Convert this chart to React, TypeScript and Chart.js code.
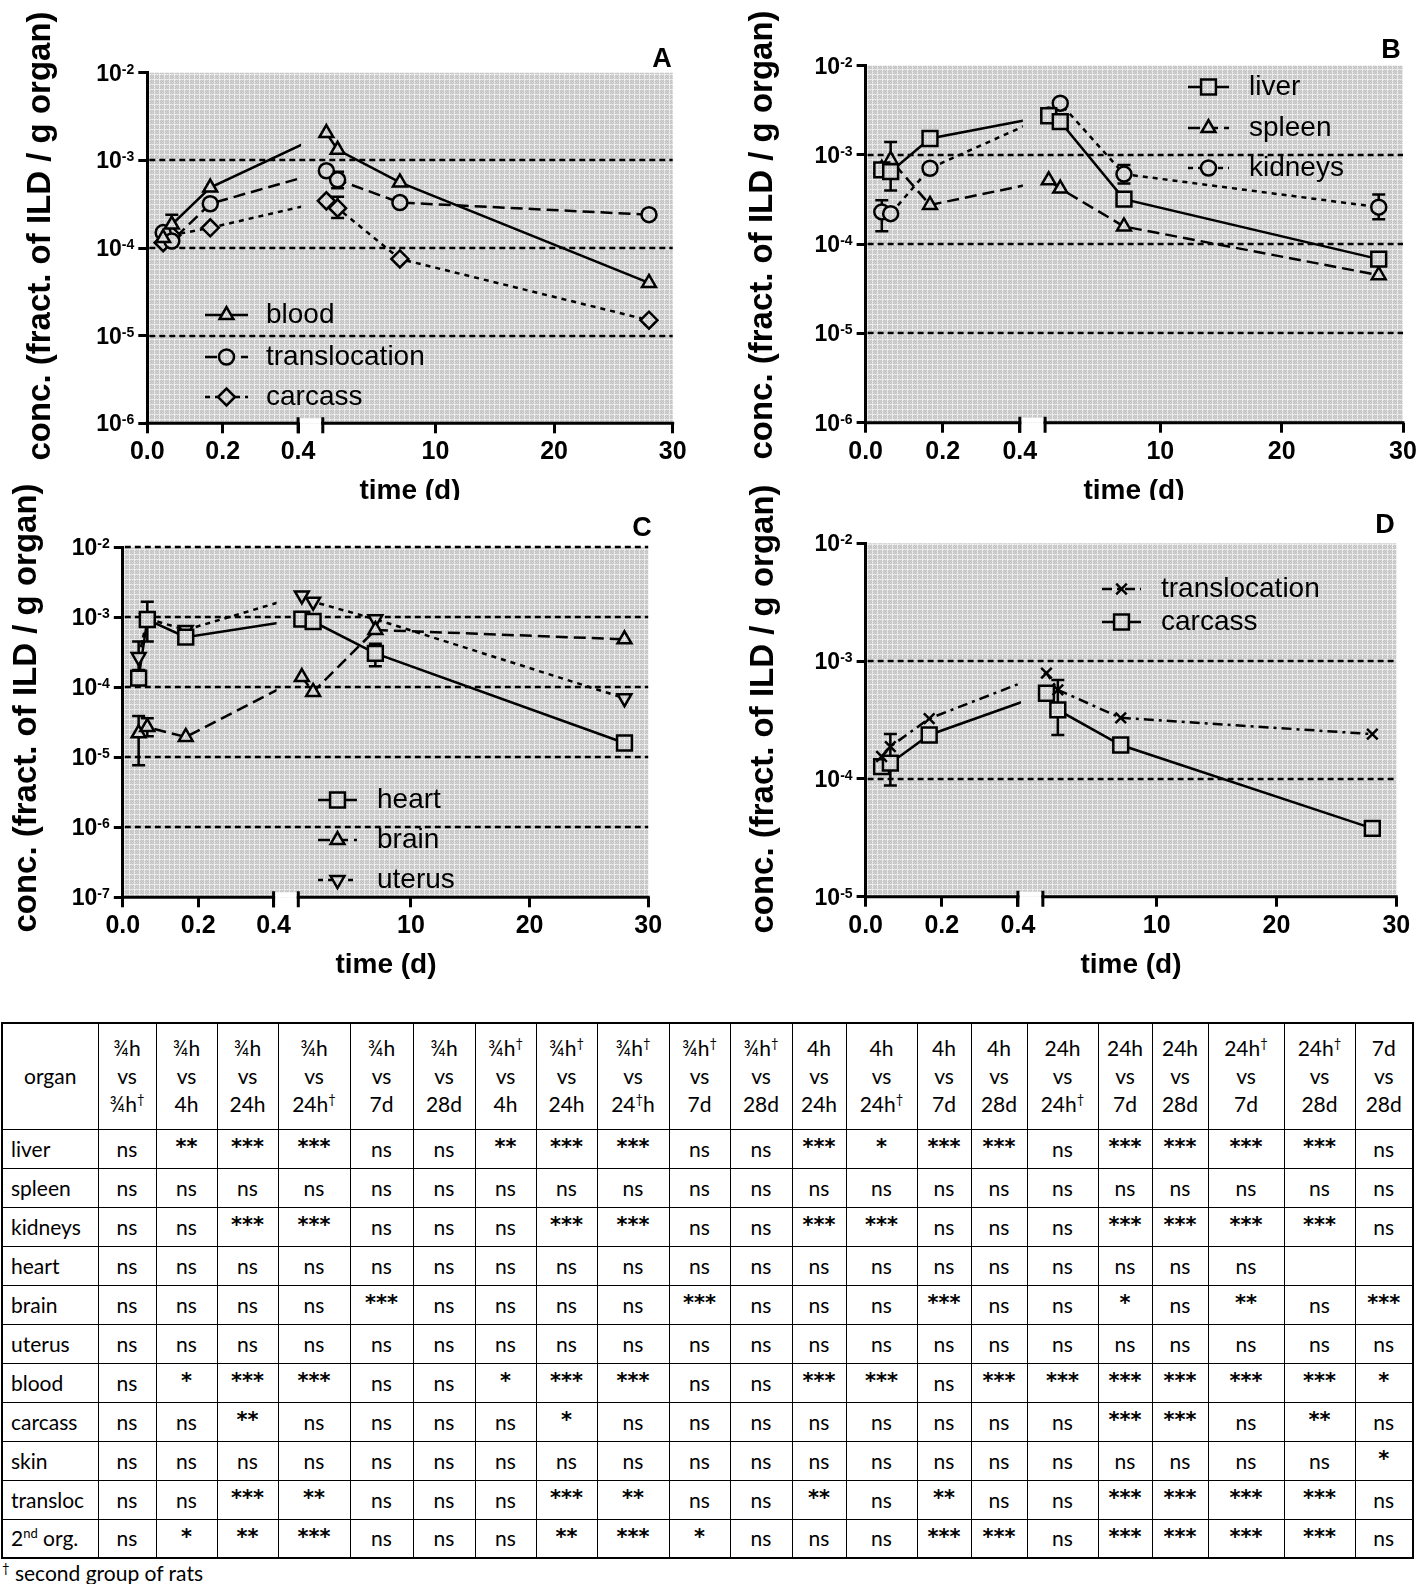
import React, { useEffect, useRef } from 'react';
import { Chart, registerables, LinearScale } from 'chart.js';
import { drawPoint } from 'chart.js/helpers';

Chart.register(...registerables);

const FONT = '"Liberation Sans", Arial, Helvetica, sans-serif';
const TABLE_FONT = 'Lato, "Open Sans", "Noto Sans", sans-serif';

// ---------------- chart data ----------------
// sampling times in days: ¾h, ¾h†, 4h, 24h, 24h†, 7d, 28d
const TIMES = [0.042, 0.065, 0.167, 0.8, 1.75, 7, 28];
const X_TICKS = [0, 0.2, 0.4, 10, 20, 30];
const X_TICK_LABELS = ['0.0', '0.2', '0.4', '10', '20', '30'];
const BREAK_LO = 0.4;
const BREAK_HI = 0.5;
const X_MAX = 30;

// Panel A
const A_LABELS = ['blood', 'translocation', 'carcass'];
const A_BLOOD = [1.3e-4, 1.85e-4, 4.9e-4, 2.05e-3, 1.32e-3, 5.6e-4, 4.0e-5];
const A_TRANSLOC = [1.5e-4, 1.2e-4, 3.2e-4, 7.6e-4, 6.0e-4, 3.3e-4, 2.4e-4];
const A_CARCASS = [1.15e-4, 1.4e-4, 1.7e-4, 3.45e-4, 2.85e-4, 7.5e-5, 1.5e-5];
const A_BLOOD_ERR = [null, [1.05e-4, 2.4e-4], null, null, null, null, null];
const A_TRANSLOC_ERR = [null, null, null, null, [4.8e-4, 7.4e-4], null, null];
const A_CARCASS_ERR = [null, null, null, null, [2.2e-4, 3.85e-4], null, null];

// Panel B
const B_LABELS = ['liver', 'spleen', 'kidneys'];
const B_LIVER = [6.8e-4, 6.5e-4, 1.53e-3, 2.75e-3, 2.36e-3, 3.2e-4, 6.8e-5];
const B_SPLEEN = [7.0e-4, 8.8e-4, 2.75e-4, 5.2e-4, 4.2e-4, 1.58e-4, 4.5e-5];
const B_KIDNEYS = [2.3e-4, 2.2e-4, 7.1e-4, 2.8e-3, 3.8e-3, 6.1e-4, 2.6e-4];
const B_LIVER_ERR = [null, null, null, null, null, [2.8e-4, 3.7e-4], null];
const B_SPLEEN_ERR = [null, [4.0e-4, 1.4e-3], null, null, null, null, null];
const B_KIDNEYS_ERR = [[1.4e-4, 3.1e-4], null, null, null, null, [4.8e-4, 7.7e-4], [1.9e-4, 3.6e-4]];

// Panel C
const C_LABELS = ['heart', 'brain', 'uterus'];
const C_HEART = [1.35e-4, 9.3e-4, 5.2e-4, 9.4e-4, 8.7e-4, 3.05e-4, 1.6e-5];
const C_BRAIN = [2.2e-5, 2.7e-5, 1.95e-5, 1.4e-4, 8.6e-5, 6.6e-4, 4.85e-4];
const C_UTERUS = [2.7e-4, 9.6e-4, 6.6e-4, 2.05e-3, 1.67e-3, 9.4e-4, 7.0e-5];
const C_HEART_ERR = [null, [4.5e-4, 1.67e-3], null, null, null, [2.0e-4, 4.2e-4], null];
const C_BRAIN_ERR = [[7.7e-6, 3.9e-5], [2.0e-5, 3.6e-5], null, null, null, null, null];
const C_UTERUS_ERR = [[1.77e-4, 4.5e-4], null, null, null, null, null, null];

// Panel D
const D_LABELS = ['translocation', 'carcass'];
const D_TRANSLOC = [1.55e-4, 1.88e-4, 3.25e-4, 7.9e-4, 5.7e-4, 3.3e-4, 2.4e-4];
const D_CARCASS = [1.27e-4, 1.36e-4, 2.36e-4, 5.33e-4, 3.85e-4, 1.94e-4, 3.8e-5];
const D_TRANSLOC_ERR = [null, null, null, null, null, null, null];
const D_CARCASS_ERR = [null, [8.8e-5, 2.4e-4], null, null, [2.36e-4, 6.9e-4], null, null];

// ---------------- table data ----------------
const ORGANS = ['liver', 'spleen', 'kidneys', 'heart', 'brain', 'uterus', 'blood', 'carcass', 'skin', 'transloc', '2nd org.'];
const CMP_FROM = ['¾h', '¾h', '¾h', '¾h', '¾h', '¾h', '¾h†', '¾h†', '¾h†', '¾h†', '¾h†', '4h', '4h', '4h', '4h', '24h', '24h', '24h', '24h†', '24h†', '7d'];
const CMP_TO = ['¾h†', '4h', '24h', '24h†', '7d', '28d', '4h', '24h', '24†h', '7d', '28d', '24h', '24h†', '7d', '28d', '24h†', '7d', '28d', '7d', '28d', '28d'];
const SIG_LIVER = ['ns', '**', '***', '***', 'ns', 'ns', '**', '***', '***', 'ns', 'ns', '***', '*', '***', '***', 'ns', '***', '***', '***', '***', 'ns'];
const SIG_SPLEEN = ['ns', 'ns', 'ns', 'ns', 'ns', 'ns', 'ns', 'ns', 'ns', 'ns', 'ns', 'ns', 'ns', 'ns', 'ns', 'ns', 'ns', 'ns', 'ns', 'ns', 'ns'];
const SIG_KIDNEYS = ['ns', 'ns', '***', '***', 'ns', 'ns', 'ns', '***', '***', 'ns', 'ns', '***', '***', 'ns', 'ns', 'ns', '***', '***', '***', '***', 'ns'];
const SIG_HEART = ['ns', 'ns', 'ns', 'ns', 'ns', 'ns', 'ns', 'ns', 'ns', 'ns', 'ns', 'ns', 'ns', 'ns', 'ns', 'ns', 'ns', 'ns', 'ns', '', ''];
const SIG_BRAIN = ['ns', 'ns', 'ns', 'ns', '***', 'ns', 'ns', 'ns', 'ns', '***', 'ns', 'ns', 'ns', '***', 'ns', 'ns', '*', 'ns', '**', 'ns', '***'];
const SIG_UTERUS = ['ns', 'ns', 'ns', 'ns', 'ns', 'ns', 'ns', 'ns', 'ns', 'ns', 'ns', 'ns', 'ns', 'ns', 'ns', 'ns', 'ns', 'ns', 'ns', 'ns', 'ns'];
const SIG_BLOOD = ['ns', '*', '***', '***', 'ns', 'ns', '*', '***', '***', 'ns', 'ns', '***', '***', 'ns', '***', '***', '***', '***', '***', '***', '*'];
const SIG_CARCASS = ['ns', 'ns', '**', 'ns', 'ns', 'ns', 'ns', '*', 'ns', 'ns', 'ns', 'ns', 'ns', 'ns', 'ns', 'ns', '***', '***', 'ns', '**', 'ns'];
const SIG_SKIN = ['ns', 'ns', 'ns', 'ns', 'ns', 'ns', 'ns', 'ns', 'ns', 'ns', 'ns', 'ns', 'ns', 'ns', 'ns', 'ns', 'ns', 'ns', 'ns', 'ns', '*'];
const SIG_TRANSLOC = ['ns', 'ns', '***', '**', 'ns', 'ns', 'ns', '***', '**', 'ns', 'ns', '**', 'ns', '**', 'ns', 'ns', '***', '***', '***', '***', 'ns'];
const SIG_2ND = ['ns', '*', '**', '***', 'ns', 'ns', 'ns', '**', '***', '*', 'ns', 'ns', 'ns', '***', '***', 'ns', '***', '***', '***', '***', 'ns'];
const SIG_ROWS = [SIG_LIVER, SIG_SPLEEN, SIG_KIDNEYS, SIG_HEART, SIG_BRAIN, SIG_UTERUS, SIG_BLOOD, SIG_CARCASS, SIG_SKIN, SIG_TRANSLOC, SIG_2ND];

// ---------------- layout (not data) ----------------
const COL_WIDTHS = [96, 58, 61, 61, 72, 63, 62, 61, 61, 72, 61, 62, 54, 71, 54, 56, 71, 54, 56, 76, 71, 58];
const FRAC_LEFT = 0.287;
const FRAC_GAP = 0.047;
const Y_TICK_LEN = 9;
const X_SCALE_H = 40;
const LINE_W = 2.5;

class BrokenScale extends LinearScale {
  static id = 'broken';
  buildTicks() {
    return X_TICKS.map((value) => ({ value }));
  }
  getPixelForValue(value: number) {
    const w = (this as any).width;
    const l = (this as any).left;
    if (value <= (BREAK_LO + BREAK_HI) / 2) {
      return l + (value / BREAK_LO) * FRAC_LEFT * w;
    }
    const start = l + (FRAC_LEFT + FRAC_GAP) * w;
    return start + ((value - BREAK_HI) / (X_MAX - BREAK_HI)) * (1 - FRAC_LEFT - FRAC_GAP) * w;
  }
}
Chart.register(BrokenScale as any);

const PANELS: any[] = [
  {
    key: 'A',
    box: { left: 0, top: 0, width: 708, height: 500 },
    area: { l: 147.3, t: 72.7, r: 672.7, b: 423.3 },
    yMin: 1e-6, yMax: 1e-2, grid: [1e-3, 1e-4, 1e-5],
    series: [
      { label: A_LABELS[0], data: A_BLOOD, err: A_BLOOD_ERR, dash: [], point: 'triangle', radius: 8, rotation: 0 },
      { label: A_LABELS[1], data: A_TRANSLOC, err: A_TRANSLOC_ERR, dash: [12, 6], point: 'circle', radius: 7.5, rotation: 0 },
      { label: A_LABELS[2], data: A_CARCASS, err: A_CARCASS_ERR, dash: [5, 5], point: 'rectRot', radius: 8.5, rotation: 0 },
    ],
    legend: { x0: 205, x1: 248, tx: 266, ys: [315, 357, 397] },
    yTitle: { x: 41, y: 236 }, xTitle: { x: 410, y: 491 }, letterPos: { x: 662, y: 60 },
  },
  {
    key: 'B',
    box: { left: 708, top: 0, width: 730, height: 500 },
    area: { l: 865.6, t: 65.7, r: 1403, b: 422.7 },
    yMin: 1e-6, yMax: 1e-2, grid: [1e-3, 1e-4, 1e-5],
    series: [
      { label: B_LABELS[0], data: B_LIVER, err: B_LIVER_ERR, dash: [], point: 'rect', radius: 10.5, rotation: 0 },
      { label: B_LABELS[1], data: B_SPLEEN, err: B_SPLEEN_ERR, dash: [12, 6], point: 'triangle', radius: 8, rotation: 0 },
      { label: B_LABELS[2], data: B_KIDNEYS, err: B_KIDNEYS_ERR, dash: [5, 5], point: 'circle', radius: 7.5, rotation: 0 },
    ],
    legend: { x0: 1188, x1: 1229, tx: 1249, ys: [87, 128, 168] },
    yTitle: { x: 763, y: 235 }, xTitle: { x: 1134, y: 491 }, letterPos: { x: 1391, y: 51 },
  },
  {
    key: 'C',
    box: { left: 0, top: 470, width: 708, height: 510 },
    area: { l: 122.8, t: 547.3, r: 648.2, b: 897.3 },
    yMin: 1e-7, yMax: 1e-2, grid: [1e-2, 1e-3, 1e-4, 1e-5, 1e-6],
    series: [
      { label: C_LABELS[0], data: C_HEART, err: C_HEART_ERR, dash: [], point: 'rect', radius: 10.5, rotation: 0 },
      { label: C_LABELS[1], data: C_BRAIN, err: C_BRAIN_ERR, dash: [12, 6], point: 'triangle', radius: 8, rotation: 0 },
      { label: C_LABELS[2], data: C_UTERUS, err: C_UTERUS_ERR, dash: [5, 5], point: 'triangle', radius: 8, rotation: 180 },
    ],
    legend: { x0: 318, x1: 357, tx: 377, ys: [800, 840, 880] },
    yTitle: { x: 27, y: 708 }, xTitle: { x: 386, y: 965 }, letterPos: { x: 642, y: 529 },
  },
  {
    key: 'D',
    box: { left: 708, top: 470, width: 730, height: 510 },
    area: { l: 865.6, t: 543.3, r: 1396.3, b: 896.7 },
    yMin: 1e-5, yMax: 1e-2, grid: [1e-3, 1e-4],
    series: [
      { label: D_LABELS[0], data: D_TRANSLOC, err: D_TRANSLOC_ERR, dash: [10, 5, 3, 5], point: 'crossRot', radius: 7.5, rotation: 0 },
      { label: D_LABELS[1], data: D_CARCASS, err: D_CARCASS_ERR, dash: [], point: 'rect', radius: 10.5, rotation: 0 },
    ],
    legend: { x0: 1102, x1: 1141, tx: 1161, ys: [589, 622] },
    yTitle: { x: 764, y: 709 }, xTitle: { x: 1131, y: 965 }, letterPos: { x: 1385, y: 526 },
  },
];

function makePattern(ctx: CanvasRenderingContext2D) {
  const c = document.createElement('canvas');
  c.width = 5;
  c.height = 5;
  const g = c.getContext('2d')!;
  for (let y = 0; y < 5; y++) {
    for (let x = 0; x < 5; x++) {
      let col;
      if (x === 4 || y === 4) col = (x + y) % 2 ? '#e0e0e0' : '#f0f0f0';
      else col = (x + y) % 2 ? '#c2c2c2' : '#d2d2d2';
      g.fillStyle = col;
      g.fillRect(x, y, 1, 1);
    }
  }
  return ctx.createPattern(c, 'repeat');
}

function decades(min: number, max: number) {
  const out: number[] = [];
  for (let e = Math.round(Math.log10(min)); e <= Math.round(Math.log10(max)); e++) out.push(Math.pow(10, e));
  return out;
}

function makePlugin(panel: any, pattern: any) {
  const ox = panel.box.left;
  const oy = panel.box.top;
  return {
    id: 'decor' + panel.key,
    beforeDraw(chart: any) {
      const { ctx, chartArea: a } = chart;
      const xs = chart.scales.x;
      ctx.save();
      ctx.fillStyle = pattern;
      ctx.fillRect(a.left, a.top, a.right - a.left, a.bottom - a.top);
      const g0 = xs.getPixelForValue(BREAK_LO);
      const g1 = xs.getPixelForValue(BREAK_HI);
      ctx.fillStyle = '#ffffff';
      ctx.fillRect(g0, a.bottom - 5, g1 - g0, 5);
      ctx.restore();
    },
    beforeDatasetsDraw(chart: any) {
      const { ctx, chartArea: a } = chart;
      const xs = chart.scales.x;
      const ys = chart.scales.y;
      ctx.save();
      ctx.strokeStyle = '#000';
      ctx.lineWidth = 2.5;
      ctx.setLineDash([6, 4]);
      for (const v of panel.grid) {
        const y = Math.round(ys.getPixelForValue(v));
        ctx.beginPath();
        ctx.moveTo(a.left + 2, y);
        ctx.lineTo(a.right, y);
        ctx.stroke();
      }
      ctx.setLineDash([]);
      // broken x axis
      const g0 = xs.getPixelForValue(BREAK_LO);
      const g1 = xs.getPixelForValue(BREAK_HI);
      const b = a.bottom;
      ctx.lineWidth = 3;
      ctx.beginPath();
      ctx.moveTo(xs.getPixelForValue(0) - 1.5, b);
      ctx.lineTo(g0 + 1.5, b);
      ctx.moveTo(g1 - 1.5, b);
      ctx.lineTo(xs.getPixelForValue(X_MAX) + 1.5, b);
      ctx.stroke();
      ctx.beginPath();
      ctx.moveTo(g0, b - 6);
      ctx.lineTo(g0, b + 10);
      ctx.moveTo(g1, b - 6);
      ctx.lineTo(g1, b + 10);
      ctx.stroke();
      // error bars
      ctx.lineWidth = 2.5;
      for (const s of panel.series) {
        s.err.forEach((e: any, i: number) => {
          if (!e) return;
          const x = xs.getPixelForValue(TIMES[i]);
          const y0 = ys.getPixelForValue(e[0]);
          const y1 = ys.getPixelForValue(e[1]);
          ctx.beginPath();
          ctx.moveTo(x, y0);
          ctx.lineTo(x, y1);
          ctx.moveTo(x - 6.5, y0);
          ctx.lineTo(x + 6.5, y0);
          ctx.moveTo(x - 6.5, y1);
          ctx.lineTo(x + 6.5, y1);
          ctx.stroke();
        });
      }
      ctx.restore();
    },
    beforeDatasetDraw(chart: any, args: any) {
      const ds = chart.data.datasets[args.index];
      if (!ds.isLine) return;
      const { ctx, chartArea: a } = chart;
      const xs = chart.scales.x;
      const g0 = xs.getPixelForValue(BREAK_LO) + 3;
      const g1 = xs.getPixelForValue(BREAK_HI);
      ctx.save();
      ctx.beginPath();
      ctx.rect(a.left - 20, a.top - 20, g0 - a.left + 20, a.bottom - a.top + 40);
      ctx.rect(g1, a.top - 20, a.right - g1 + 20, a.bottom - a.top + 40);
      ctx.clip();
    },
    afterDatasetDraw(chart: any, args: any) {
      const ds = chart.data.datasets[args.index];
      if (!ds.isLine) return;
      chart.ctx.restore();
    },
    afterDraw(chart: any) {
      const { ctx, chartArea: a } = chart;
      const ys = chart.scales.y;
      ctx.save();
      ctx.fillStyle = '#000';
      // y tick labels 10^n
      for (const v of decades(panel.yMin, panel.yMax)) {
        const y = ys.getPixelForValue(v);
        const exp = String(Math.round(Math.log10(v)));
        ctx.font = `bold 14px ${FONT}`;
        ctx.textAlign = 'right';
        ctx.textBaseline = 'alphabetic';
        const xr = a.left - 13;
        const ew = ctx.measureText(exp).width;
        ctx.fillText(exp, xr, y + 1);
        ctx.font = `bold 23px ${FONT}`;
        ctx.fillText('10', xr - ew, y + 8);
      }
      // y title
      ctx.save();
      ctx.translate(panel.yTitle.x - ox, panel.yTitle.y - oy);
      ctx.rotate(-Math.PI / 2);
      ctx.font = `bold 33px ${FONT}`;
      ctx.textAlign = 'center';
      ctx.textBaseline = 'middle';
      ctx.fillText('conc. (fract. of ILD / g organ)', 0, 0);
      ctx.restore();
      // x title
      ctx.font = `bold 28px ${FONT}`;
      ctx.textAlign = 'center';
      ctx.textBaseline = 'middle';
      ctx.fillText('time (d)', panel.xTitle.x - ox, panel.xTitle.y - oy);
      // panel letter
      ctx.font = `bold 27px ${FONT}`;
      ctx.fillText(panel.key, panel.letterPos.x - ox, panel.letterPos.y - oy);
      // legend
      const lg = panel.legend;
      panel.series.forEach((s: any, i: number) => {
        const y = lg.ys[i] - oy;
        const x0 = lg.x0 - ox;
        const x1 = lg.x1 - ox;
        ctx.strokeStyle = '#000';
        ctx.lineWidth = LINE_W;
        ctx.setLineDash(s.dash);
        ctx.beginPath();
        ctx.moveTo(x0, y);
        ctx.lineTo(x1, y);
        ctx.stroke();
        ctx.setLineDash([]);
        ctx.fillStyle = pattern;
        ctx.strokeStyle = '#000';
        ctx.lineWidth = LINE_W;
        drawPoint(ctx, { pointStyle: s.point, rotation: s.rotation, radius: s.radius, borderWidth: LINE_W } as any, (x0 + x1) / 2, y);
        ctx.fillStyle = '#000';
        ctx.font = `28px ${FONT}`;
        ctx.textAlign = 'left';
        ctx.textBaseline = 'middle';
        ctx.fillText(s.label, lg.tx - ox, y);
      });
      ctx.restore();
    },
  };
}

function buildConfig(panel: any, pattern: any) {
  const datasets: any[] = [];
  panel.series.forEach((s: any) => {
    const pts = TIMES.map((x, i) => ({ x, y: s.data[i] }));
    datasets.push({
      label: s.label + ' line',
      isLine: true,
      data: pts,
      showLine: true,
      borderColor: '#000',
      borderWidth: LINE_W,
      borderDash: s.dash,
      pointRadius: 0,
      pointHoverRadius: 0,
      fill: false,
      tension: 0,
      order: 1,
    });
    datasets.push({
      label: s.label,
      data: pts,
      showLine: false,
      pointStyle: s.point,
      pointRadius: s.radius,
      pointHoverRadius: s.radius,
      pointRotation: s.rotation,
      pointBorderColor: '#000',
      pointBackgroundColor: pattern,
      pointBorderWidth: LINE_W,
      order: 0,
    });
  });
  const b = panel.box;
  const a = panel.area;
  return {
    type: 'line',
    data: { datasets },
    options: {
      responsive: false,
      maintainAspectRatio: false,
      animation: false,
      devicePixelRatio: 1,
      events: [],
      layout: {
        autoPadding: false,
        padding: {
          left: a.l - b.left - Y_TICK_LEN,
          top: a.t - b.top,
          right: b.left + b.width - a.r,
          bottom: b.top + b.height - a.b - X_SCALE_H,
        },
      },
      plugins: { legend: { display: false }, tooltip: { enabled: false }, title: { display: false } },
      scales: {
        x: {
          type: 'broken',
          min: 0,
          max: X_MAX,
          afterFit: (s: any) => { s.height = X_SCALE_H; },
          ticks: {
            autoSkip: false,
            maxRotation: 0,
            minRotation: 0,
            padding: 4,
            color: '#000',
            font: { family: FONT, size: 25, weight: 'bold' },
            callback: (_v: any, i: number) => X_TICK_LABELS[i] ?? '',
          },
          grid: { drawOnChartArea: false, drawTicks: true, tickLength: 10, tickWidth: 3, tickColor: '#000', color: '#000', lineWidth: 3 },
          border: { display: false },
        },
        y: {
          type: 'logarithmic',
          min: panel.yMin,
          max: panel.yMax,
          afterBuildTicks: (s: any) => { s.ticks = decades(panel.yMin, panel.yMax).map((value) => ({ value })); },
          afterFit: (s: any) => { s.width = Y_TICK_LEN; },
          ticks: { display: false },
          grid: { drawOnChartArea: false, drawTicks: true, tickLength: Y_TICK_LEN, tickWidth: 3, tickColor: '#000', color: '#000', lineWidth: 3 },
          border: { display: true, color: '#000', width: 3 },
        },
      },
    },
    plugins: [makePlugin(panel, pattern)],
  };
}

function PanelChart({ panel }: { panel: any }) {
  const ref = useRef<HTMLCanvasElement>(null);
  useEffect(() => {
    const canvas = ref.current!;
    const ctx = canvas.getContext('2d')!;
    const pattern = makePattern(ctx);
    const chart = new Chart(canvas, buildConfig(panel, pattern) as any);
    return () => chart.destroy();
  }, [panel]);
  const b = panel.box;
  return (
    <canvas
      ref={ref}
      width={b.width}
      height={b.height}
      style={{ position: 'absolute', left: b.left, top: b.top, width: b.width, height: b.height }}
    />
  );
}

const SUP: React.CSSProperties = { fontSize: 13, verticalAlign: 'super', lineHeight: 0 };
const STAR: React.CSSProperties = { fontFamily: '"DejaVu Sans", sans-serif', fontSize: 21, fontWeight: 'bold', position: 'relative', top: -2 };

function withSup(text: string) {
  const parts = text.split('†');
  const out: any[] = [];
  parts.forEach((p, i) => {
    if (i > 0) out.push(<sup key={'s' + i} style={SUP}>†</sup>);
    if (p) out.push(<span key={'p' + i}>{p}</span>);
  });
  return out;
}

function organLabel(name: string) {
  if (name.startsWith('2nd')) {
    return (<>2<sup style={SUP}>nd</sup>{name.slice(3)}</>);
  }
  return name;
}

function sigCell(v: string) {
  if (v.includes('*')) return <span style={STAR}>{v}</span>;
  return v;
}

function SigTable() {
  const cell: React.CSSProperties = {
    border: '1px solid #000',
    padding: 0,
    textAlign: 'center',
    verticalAlign: 'middle',
    fontWeight: 'normal',
    overflow: 'hidden',
  };
  return (
    <table
      style={{
        position: 'absolute',
        left: 1,
        top: 1022,
        width: COL_WIDTHS.reduce((s, w) => s + w, 0),
        borderCollapse: 'collapse',
        tableLayout: 'fixed',
        fontFamily: TABLE_FONT,
        fontSize: 21,
        lineHeight: '28px',
        color: '#000',
        border: '2px solid #000',
      }}
    >
      <colgroup>
        {COL_WIDTHS.map((w, i) => (<col key={i} style={{ width: w }} />))}
      </colgroup>
      <thead>
        <tr style={{ height: 106 }}>
          <th style={cell}>organ</th>
          {CMP_FROM.map((f, i) => (
            <th key={i} style={cell}>
              <div>{withSup(f)}</div>
              <div>vs</div>
              <div>{withSup(CMP_TO[i])}</div>
            </th>
          ))}
        </tr>
      </thead>
      <tbody>
        {ORGANS.map((o, r) => (
          <tr key={o} style={{ height: 39 }}>
            <td style={{ ...cell, textAlign: 'left', paddingLeft: 8 }}>{organLabel(o)}</td>
            {SIG_ROWS[r].map((v, c) => (<td key={c} style={cell}>{sigCell(v)}</td>))}
          </tr>
        ))}
      </tbody>
    </table>
  );
}

export default function App() {
  return (
    <div style={{ position: 'absolute', left: 0, top: 0, width: 1417, height: 1584, background: '#fff', overflow: 'hidden' }}>
      {PANELS.map((p) => (<PanelChart key={p.key} panel={p} />))}
      <SigTable />
      <div style={{ position: 'absolute', left: 2, top: 1559, fontFamily: TABLE_FONT, fontSize: 21, lineHeight: '28px', color: '#000' }}>
        <sup style={SUP}>†</sup> second group of rats
      </div>
    </div>
  );
}
